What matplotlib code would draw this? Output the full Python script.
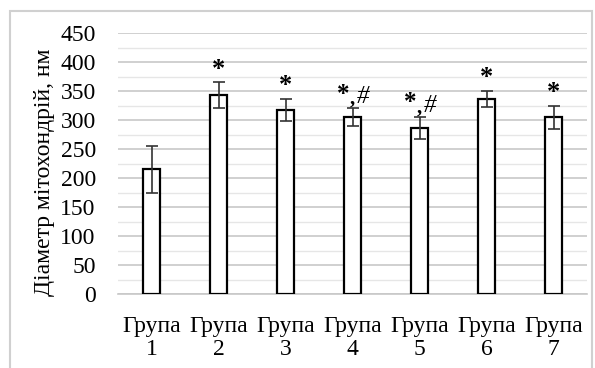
import numpy as np
import matplotlib.pyplot as plt
from matplotlib.patches import Rectangle

groups = ['Група\n1', 'Група\n2', 'Група\n3', 'Група\n4', 'Група\n5', 'Група\n6', 'Група\n7']
values = [215, 343, 317, 305, 286, 336, 305]
errors = [41, 22, 19, 15, 19, 14, 20]
marks = ['', '*', '*', '*,#', '*,#', '*', '*']

plt.rcParams['font.family'] = ['Liberation Serif', 'DejaVu Serif']

fig = plt.figure(figsize=(5.95, 3.68), dpi=100)
fig.patches.append(Rectangle((10/595, -0.1), 582/595, 1.1 - 11/368, transform=fig.transFigure,
                             fill=False, edgecolor='#d0d0d0', linewidth=1.5))
ax = fig.add_axes([118/595, 1 - 294/368, 469/595, 261/368])

x = np.arange(len(groups))
ax.bar(x, values, width=0.26, color='white', edgecolor='black', linewidth=1.6, zorder=3)
ax.errorbar(x, values, yerr=errors, fmt='none', ecolor='#333333', elinewidth=1.2,
            capsize=4, capthick=1.2, zorder=4)

for i, m in enumerate(marks):
    top = values[i] + errors[i]
    if m == '*':
        ax.text(x[i], top + 3, '*', ha='center', va='bottom', fontsize=19, fontweight='bold')
    elif m:
        ax.text(x[i] - 0.14, top + 5, '*', ha='center', va='bottom', fontsize=18, fontweight='bold')
        ax.text(x[i] - 0.01, top - 1, ',', ha='center', va='bottom', fontsize=15,
                fontweight='bold', zorder=6)
        ax.text(x[i] + 0.15, top + 1, '#', ha='center', va='bottom', fontsize=18, style='italic')

ax.set_xlim(-0.5, len(groups) - 0.5)
ax.set_ylim(0, 450)
ax.set_yticks(np.arange(0, 451, 50))
ax.set_yticks(np.arange(25, 450, 50), minor=True)
ax.grid(axis='y', which='major', color='#c8c8c8', linewidth=1.2, zorder=0)
ax.grid(axis='y', which='minor', color='#e6e6e6', linewidth=1.0, zorder=0)
ax.set_xticks(x)
ax.set_xticklabels(groups, fontsize=17, linespacing=1.1)
ax.tick_params(axis='y', labelsize=17, length=0, pad=16)
ax.tick_params(axis='x', length=0, pad=16)
ax.tick_params(axis='y', which='minor', length=0)
for s in ['top', 'right', 'left']:
    ax.spines[s].set_visible(False)
ax.spines['bottom'].set_color('#c8c8c8')
ax.spines['bottom'].set_linewidth(1.2)
ax.set_ylabel('Діаметр мітохондрій, нм', fontsize=17, va='center')
ax.yaxis.set_label_coords(-0.156, 0.466)

plt.savefig('out.png', dpi=100)
